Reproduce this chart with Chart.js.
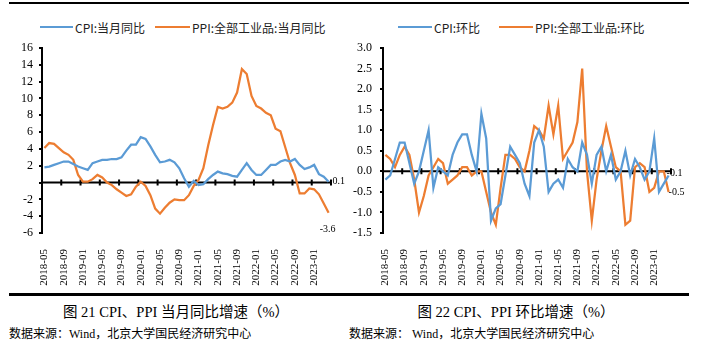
<!DOCTYPE html>
<html>
<head>
<meta charset="utf-8">
<script src="https://cdn.jsdelivr.net/npm/chart.js@4.4.1/dist/chart.umd.min.js"></script>
<style>
  body { margin: 0; background: #fff; }
  #wrap { position: relative; width: 701px; height: 345px; overflow: hidden; }
  canvas { position: absolute; top: 0; }
  .rule { position: absolute; left: 9px; width: 680px; background: #000; }
  .leg { position: absolute; top: 19px; height: 16px; line-height: 16px; font: 12px "Noto Sans CJK SC", sans-serif; color: #222; white-space: nowrap; }
  .swatch { position: absolute; top: 26px; height: 2px; }
  .cap { position: absolute; top: 302px; width: 352px; text-align: center; font: 14.5px "Liberation Serif", "Noto Sans CJK SC", serif; color: #000; line-height: 20px; white-space: nowrap; }
  .src { position: absolute; top: 326px; font: 12px "Liberation Serif", "Noto Sans CJK SC", serif; color: #000; line-height: 16px; white-space: nowrap; }
</style>
</head>
<body>
<div id="wrap">
  <div class="rule" style="top:2px;height:2px"></div>

  <div class="swatch" style="left:40px;width:33px;background:#5B9BD5"></div>
  <div class="leg" style="left:75px">CPI:当月同比</div>
  <div class="swatch" style="left:155px;width:35px;background:#ED7D31"></div>
  <div class="leg" style="left:192px">PPI:全部工业品:当月同比</div>

  <div class="swatch" style="left:398px;width:34px;background:#5B9BD5"></div>
  <div class="leg" style="left:434px">CPI:环比</div>
  <div class="swatch" style="left:499px;width:34px;background:#ED7D31"></div>
  <div class="leg" style="left:535px">PPI:全部工业品:环比</div>

  <canvas id="yoy" width="350" height="290" style="left:0"></canvas>
  <canvas id="mom" width="351" height="290" style="left:350px"></canvas>

  <div class="rule" style="top:293px;height:2.5px"></div>
  <div class="cap" style="left:0">图 21 CPI、PPI 当月同比增速（%）</div>
  <div class="cap" style="left:340px">图 22 CPI、PPI 环比增速（%）</div>
  <div class="src" style="left:9px">数据来源：Wind，北京大学国民经济研究中心</div>
  <div class="src" style="left:349px">数据来源： Wind，北京大学国民经济研究中心</div>
</div>

<script>
const months = [
  "2018-05","2018-06","2018-07","2018-08","2018-09","2018-10","2018-11","2018-12",
  "2019-01","2019-02","2019-03","2019-04","2019-05","2019-06","2019-07","2019-08","2019-09","2019-10","2019-11","2019-12",
  "2020-01","2020-02","2020-03","2020-04","2020-05","2020-06","2020-07","2020-08","2020-09","2020-10","2020-11","2020-12",
  "2021-01","2021-02","2021-03","2021-04","2021-05","2021-06","2021-07","2021-08","2021-09","2021-10","2021-11","2021-12",
  "2022-01","2022-02","2022-03","2022-04","2022-05","2022-06","2022-07","2022-08","2022-09","2022-10","2022-11","2022-12",
  "2023-01","2023-02","2023-03","2023-04"
];

// 当月同比
const cpiYoy = [
  1.8, 1.9, 2.1, 2.3, 2.5, 2.5, 2.2, 1.9,
  1.7, 1.5, 2.3, 2.5, 2.7, 2.7, 2.8, 2.8, 3.0, 3.8, 4.5, 4.5,
  5.4, 5.2, 4.3, 3.3, 2.4, 2.5, 2.7, 2.4, 1.7, 0.5, -0.5, 0.2,
  -0.3, -0.2, 0.4, 0.9, 1.3, 1.1, 1.0, 0.8, 0.7, 1.5, 2.3, 1.5,
  0.9, 0.9, 1.5, 2.1, 2.1, 2.5, 2.7, 2.5, 2.8, 2.1, 1.6, 1.8,
  2.1, 1.0, 0.7, 0.1
];
const ppiYoy = [
  4.1, 4.7, 4.6, 4.1, 3.6, 3.3, 2.7, 0.9,
  0.1, 0.1, 0.4, 0.9, 0.6, 0.0, -0.3, -0.8, -1.2, -1.6, -1.4, -0.5,
  0.1, -0.4, -1.5, -3.1, -3.7, -3.0, -2.4, -2.0, -2.1, -2.1, -1.5, -0.4,
  0.3, 1.7, 4.4, 6.8, 9.0, 8.8, 9.0, 9.5, 10.7, 13.5, 12.9, 10.3,
  9.1, 8.8, 8.3, 8.0, 6.4, 6.1, 4.2, 2.3, 0.9, -1.3, -1.3, -0.7,
  -0.8, -1.4, -2.5, -3.6
];

// 环比
const cpiMom = [
  -0.2, -0.1, 0.3, 0.7, 0.7, 0.2, -0.3, 0.0,
  0.5, 1.0, -0.4, 0.1, 0.0, -0.1, 0.4, 0.7, 0.9, 0.9, 0.4, 0.0,
  1.4, 0.8, -1.2, -0.9, -0.8, -0.1, 0.6, 0.4, 0.2, -0.3, -0.6, 0.7,
  1.0, 0.6, -0.5, -0.3, -0.2, -0.4, 0.3, 0.1, 0.0, 0.7, 0.4, -0.3,
  0.4, 0.6, 0.0, 0.4, -0.2, 0.0, 0.5, -0.1, 0.3, 0.1, -0.2, 0.0,
  0.8, -0.5, -0.3, -0.1
];
const ppiMom = [
  0.4, 0.3, 0.1, 0.4, 0.6, 0.4, -0.2, -1.0,
  -0.6, -0.1, 0.1, 0.3, 0.2, -0.3, -0.2, -0.1, 0.1, 0.1, -0.1, 0.0,
  0.0, -0.5, -1.0, -1.3, -0.4, 0.4, 0.4, 0.3, 0.1, 0.0, 0.5, 1.1,
  1.0, 0.8, 1.6, 0.9, 1.6, 0.3, 0.5, 0.7, 1.2, 2.5, 0.0, -1.2,
  -0.2, 0.5, 1.1, 0.6, 0.1, 0.0, -1.3, -1.2, 0.1, 0.2, 0.1, -0.5,
  -0.4, 0.0, 0.0, -0.5
];

Chart.defaults.font.family = "'Liberation Serif', 'Times New Roman', serif";
Chart.defaults.color = "#000";

// zero line with tick marks between every 4th category
const zeroAxis = {
  id: "zeroAxis",
  beforeDatasetsDraw(chart) {
    const { ctx, chartArea, scales } = chart;
    const x = scales.x, y = scales.y;
    const y0 = y.getPixelForValue(0);
    const step = x.getPixelForValue(1) - x.getPixelForValue(0);
    ctx.save();
    ctx.strokeStyle = "#000";
    ctx.lineWidth = 2;
    ctx.beginPath();
    ctx.moveTo(chartArea.left, y0);
    ctx.lineTo(chartArea.right, y0);
    for (let i = 3; i < x.getLabels().length; i += 4) {
      const px = x.getPixelForValue(i) + step / 2;
      ctx.moveTo(px, y0 - 3);
      ctx.lineTo(px, y0 + 3);
    }
    ctx.stroke();
    ctx.restore();
  }
};

// value label at the last point of each series
const endLabels = {
  id: "endLabels",
  afterDatasetsDraw(chart, args, opts) {
    const ctx = chart.ctx;
    ctx.save();
    ctx.font = "10px 'Liberation Serif', serif";
    ctx.fillStyle = "#000";
    ctx.textBaseline = "middle";
    chart.data.datasets.forEach((ds, i) => {
      const meta = chart.getDatasetMeta(i);
      const pt = meta.data[meta.data.length - 1];
      const o = opts.items[i];
      ctx.textAlign = o.align;
      ctx.fillText(ds.data[ds.data.length - 1].toFixed(1), pt.x + o.dx, pt.y + o.dy);
    });
    ctx.restore();
  }
};

function makeChart(id, cpi, ppi, yMin, yMax, yStep, fmt, pad, yWidth, tickPad, labelPos) {
  return new Chart(document.getElementById(id), {
    type: "line",
    data: {
      labels: months,
      datasets: [
        { data: cpi, borderColor: "#5B9BD5", borderWidth: 2.25, pointRadius: 0, tension: 0 },
        { data: ppi, borderColor: "#ED7D31", borderWidth: 2.25, pointRadius: 0, tension: 0 }
      ]
    },
    options: {
      responsive: false,
      animation: false,
      layout: { padding: pad },
      plugins: {
        legend: { display: false },
        tooltip: { enabled: false },
        endLabels: { items: labelPos }
      },
      scales: {
        x: {
          offset: true,
          grid: { display: false },
          border: { display: false },
          ticks: {
            autoSkip: false,
            maxRotation: 90,
            minRotation: 90,
            padding: 8,
            font: { size: 11 },
            callback: (v, i) => (i % 4 === 0 ? months[i] : "")
          },
          afterFit: s => { s.height = 57; }
        },
        y: {
          min: yMin,
          max: yMax,
          grid: { drawOnChartArea: false, drawTicks: true, tickLength: 3, color: "#000", lineWidth: 2 },
          border: { color: "#000", width: 2 },
          ticks: { stepSize: yStep, autoSkip: false, padding: tickPad, font: { size: 12 }, callback: fmt },
          afterFit: s => { s.width = yWidth; }
        }
      }
    },
    plugins: [zeroAxis, endLabels]
  });
}

makeChart("yoy", cpiYoy, ppiYoy, -6, 16, 2,
  v => (v === 0 ? "" : String(v)),
  { top: 48, left: 0, right: 19, bottom: 0 }, 42, 6,
  [{ dx: 4, dy: 0, align: "left" }, { dx: -1, dy: 17, align: "center" }]);

makeChart("mom", cpiMom, ppiMom, -1.5, 3, 0.5,
  v => Number(v).toFixed(1),
  { top: 48, left: 0, right: 30, bottom: 0 }, 33, 8,
  [{ dx: -2, dy: -2, align: "left" }, { dx: 0, dy: 0, align: "left" }]);
</script>
</body>
</html>
